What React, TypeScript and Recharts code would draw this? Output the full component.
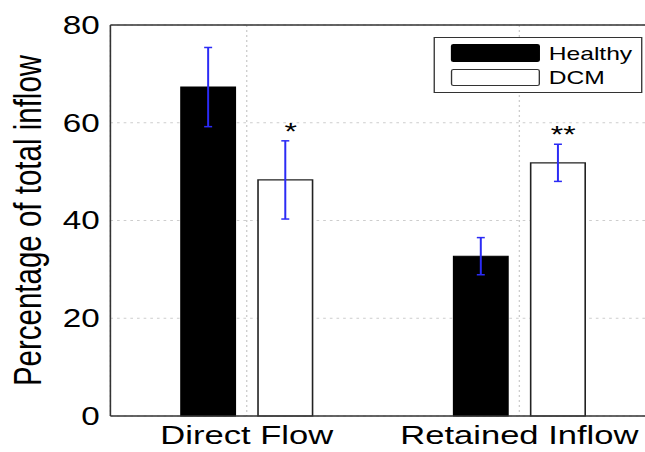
import React from 'react'
import {
  BarChart, Bar, XAxis, YAxis, CartesianGrid, ErrorBar,
  LabelList, ReferenceLine, Legend, Label,
} from 'recharts'

// the source figure is stretched sideways, so the chart is drawn narrow and scaled on x
const SX = 1.33

const categories = ['Direct Flow', 'Retained Inflow']
const healthy = [67.3, 32.7]
const healthyErr = [8.1, 3.8]
const dcm = [48.3, 51.8]
const dcmErr = [8.0, 3.8]
const significance = ['*', '**']
const yTicks = [0, 20, 40, 60, 80]

const data = categories.map((name, i) => ({
  name,
  healthy: healthy[i],
  healthyErr: healthyErr[i],
  dcm: dcm[i],
  dcmErr: dcmErr[i],
  sig: significance[i],
}))

const FONT = '"Liberation Sans", Arial, Helvetica, sans-serif'

function StarLabel(props: any) {
  const { x, y, width, height, index, value } = props
  const errPx = (dcmErr[index] * height) / dcm[index]
  return (
    <text x={x + width / 2 + 4} y={y - errPx - 1} textAnchor="middle" fontSize={24} fill="#000">
      {value}
    </text>
  )
}

function YLabel(props: any) {
  const { viewBox } = props
  const cy = viewBox.y + viewBox.height / 2
  const bx = 30.5
  return (
    <text x={bx} y={cy} textAnchor="middle" fontSize={29.5} fill="#000" transform={`rotate(-90 ${bx} ${cy})`}>
      Percentage of total inflow
    </text>
  )
}

function BoxLegend() {
  return (
    <div style={{ width: 157, height: 56, border: '1px solid #333', boxSizing: 'border-box', background: '#fff', position: 'relative', fontFamily: FONT }}>
      <div style={{ position: 'absolute', left: 12, top: 6, width: 67, height: 18, background: '#000', borderRadius: 2 }} />
      <div style={{ position: 'absolute', left: 86, top: 7, fontSize: 18.5, lineHeight: '18.5px', color: '#000' }}>Healthy</div>
      <div style={{ position: 'absolute', left: 12, top: 31, width: 67, height: 17, background: '#fff', border: '1.3px solid #333', boxSizing: 'border-box', borderRadius: 2 }} />
      <div style={{ position: 'absolute', left: 86, top: 31, fontSize: 18.5, lineHeight: '18.5px', color: '#000' }}>DCM</div>
    </div>
  )
}

export default function App() {
  return (
    <div style={{ position: 'absolute', left: 0, top: 0, width: 645, height: 452, overflow: 'hidden', background: '#fff', fontFamily: FONT }}>
      <div style={{ transform: `scaleX(${SX})`, transformOrigin: '0 0', width: 500, height: 452 }}>
        <BarChart width={500} height={452} data={data} margin={{ top: 25, right: 7, bottom: 0, left: 0 }} barSize={41} barGap={17}>
          <CartesianGrid stroke="#cdcdcd" strokeDasharray="2 3" />
          <XAxis
            dataKey="name"
            height={36}
            tick={{ fill: '#000', fontSize: 26 }}
            tickLine={false}
            tickSize={6}
            tickMargin={4}
            axisLine={{ stroke: '#333', strokeWidth: 1.5 }}
            interval={0}
          />
          <YAxis
            width={83}
            domain={[0, 80]}
            ticks={yTicks}
            tick={{ fill: '#000', fontSize: 25 }}
            tickLine={false}
            axisLine={{ stroke: '#333', strokeWidth: 1.2 }}
          >
            <Label content={<YLabel />} />
          </YAxis>
          <ReferenceLine y={80} stroke="#333" strokeWidth={1.5} />
          <Legend
            layout="vertical"
            align="center"
            verticalAlign="middle"
            content={<BoxLegend />}
            wrapperStyle={{ left: 325.6, top: 37, width: 157, height: 56 }}
          />
          <Bar dataKey="healthy" name="Healthy" fill="#000" stroke="#000" isAnimationActive={false}>
            <ErrorBar dataKey="healthyErr" stroke="#2b2bf5" strokeWidth={1.5} width={3} />
          </Bar>
          <Bar dataKey="dcm" name="DCM" fill="#fff" stroke="#222" strokeWidth={1.2} isAnimationActive={false}>
            <ErrorBar dataKey="dcmErr" stroke="#2b2bf5" strokeWidth={1.5} width={3} />
            <LabelList dataKey="sig" content={<StarLabel />} />
          </Bar>
        </BarChart>
      </div>
    </div>
  )
}
